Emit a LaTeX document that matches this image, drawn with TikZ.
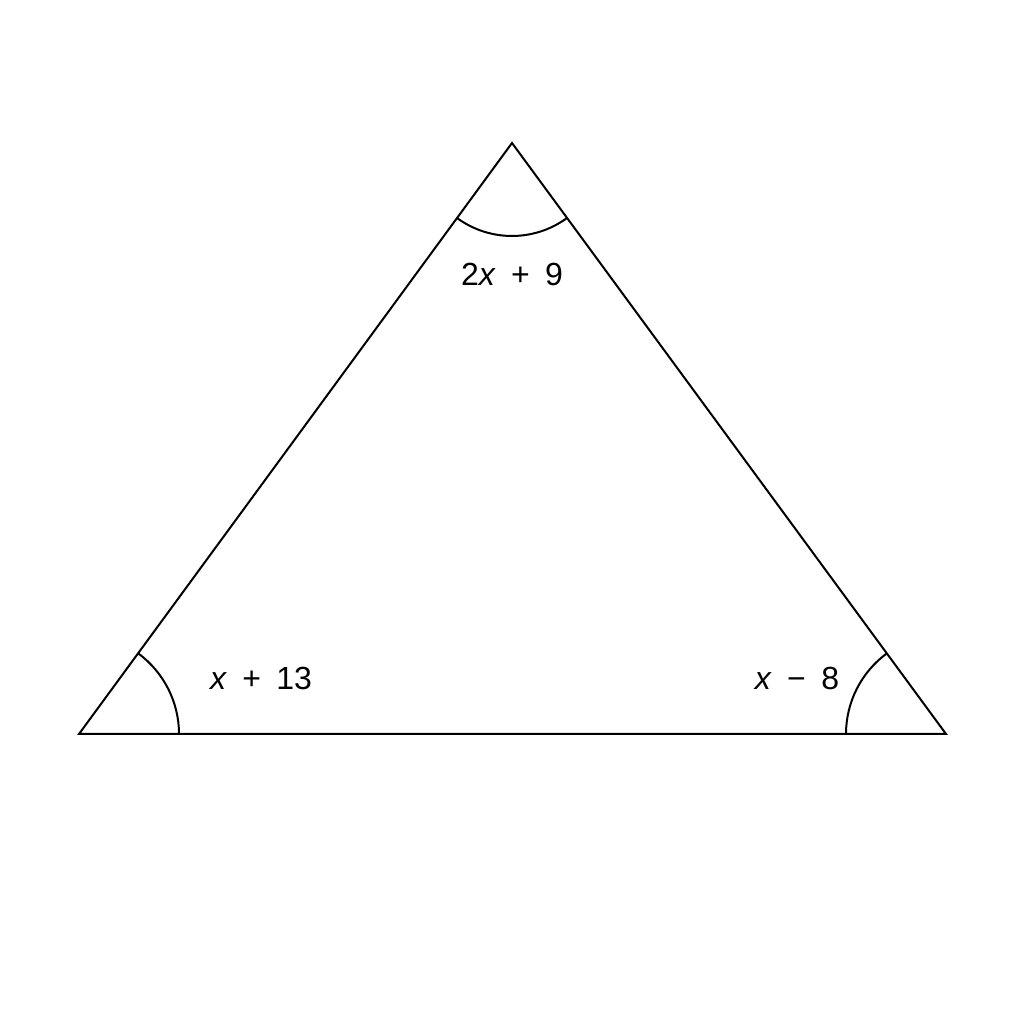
\documentclass[tikz,border=0pt]{standalone}
\usepackage{fontspec}
\setmainfont{Liberation Sans}
\newcommand{\wsp}{\hspace{0.48em}}
\begin{document}
\begin{tikzpicture}[x=1pt,y=1pt,
  edge/.style={line width=2pt,line join=miter},
  anglemark/.style={line width=2pt},
  lbl/.style={font=\fontsize{32}{36}\selectfont,inner sep=0pt,anchor=center}]
\useasboundingbox (0,0) rectangle (1024,1024);
\fill[white] (0,0) rectangle (1024,1024);
\coordinate (A) at (79,290);
\coordinate (B) at (946,290);
\coordinate (C) at (512,881);
\draw[edge] (A) -- (B) -- (C) -- cycle;
\draw[anglemark] ([shift={(0:100)}]A) arc[start angle=0,end angle=53.77,radius=100];
\draw[anglemark] ([shift={(126.3:100)}]B) arc[start angle=126.3,end angle=180,radius=100];
\draw[anglemark] ([shift={(233.77:93)}]C) arc[start angle=233.77,end angle=306.3,radius=93];
\node[lbl] (lC) at (512,750) {2\textit{x}\wsp+\wsp9};
\node[lbl] (lA) at (261,346) {\textit{x}\wsp+\wsp13};
\node[lbl] (lB) at (797,346) {\textit{x}\wsp−\wsp8};
\end{tikzpicture}
\end{document}
